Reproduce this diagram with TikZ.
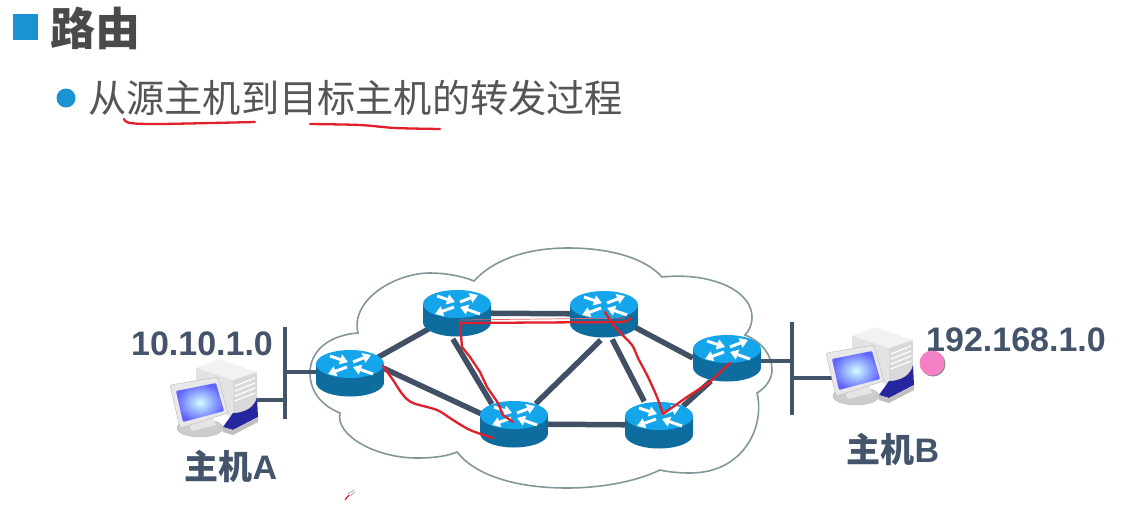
\documentclass[tikz,border=0pt]{standalone}
\usepackage{fontspec}
\setmainfont{Liberation Sans}
\newfontfamily\cjk{Noto Sans CJK SC}
\usetikzlibrary{arrows.meta,shapes.geometric}
\definecolor{slate}{HTML}{44546A}
\definecolor{titlegray}{HTML}{4A4A4A}
\definecolor{bodygray}{HTML}{555555}
\definecolor{bulletblue}{HTML}{1A93D4}
\definecolor{cloudgray}{HTML}{82979A}
\definecolor{routertop}{HTML}{14A5EA}
\definecolor{routerside}{HTML}{0E6C9E}
\definecolor{penred}{HTML}{E0202A}
\tikzset{
  routerbox/.style={ellipse, minimum width=68pt, minimum height=52pt, inner sep=0pt},
  netlink/.style={draw=slate!95!black, line width=5.5pt},
  barline/.style={draw=slate, line width=4.5pt},
  redline/.style={draw=penred, line width=2.3pt, line cap=round, line join=round},
  netlabel/.style={text=slate, font=\fontsize{34}{34}\selectfont\bfseries, inner sep=0pt},
  turn/.style={white, line width=3pt, -{Triangle[length=8pt,width=10pt]}},
  router/.pic={
    \fill[routerside] (-34,-9) rectangle (34,9.5);
    \fill[routerside] (0,9.5) ellipse [x radius=34, y radius=14];
    \fill[routertop] (0,-9) ellipse [x radius=34, y radius=14];
    \draw[turn] (-20,-17) -- (-2,-11);
    \draw[turn] (3,-11) -- (21,-18);
    \draw[turn] (-3,-6) -- (-22,1);
    \draw[turn] (23,1) -- (3,-6);
  },
  computer/.pic={
    \fill[black!20, draw=black!28] (-10,33) ellipse [x radius=23, y radius=9];
    \fill[black!10] (-22,26) -- (2,20) -- (6,30) -- (-18,36) -- cycle;
    \fill[black!5] (-14,-27) -- (8,-36) -- (47,-23) -- (23,-15) -- cycle;
    \fill[black!11] (-14,-27) -- (23,-15) -- (23,25) -- (-14,-8) -- cycle;
    \fill[black!15] (23,-15) -- (47,-23) -- (47,8) -- (23,25) -- cycle;
    \draw[white, line width=1.2pt] (25,-9) -- (45,-17) (25,-4) -- (45,-12) (25,1) -- (45,-7) (25,6) -- (45,-2);
    \fill[blue!55!black!85!white] (13,32) -- (23,35) -- (48,22) -- (47,2) .. controls (45,12) and (35,18) .. (23,18) -- cycle;
    \fill[black!25] (23,35) -- (48,22) -- (48,27) -- (23,40) -- (13,37) -- (13,32) -- cycle;
    \fill[black!9, draw=black!28, rounded corners=2pt] (-40,-10) -- (8,-18) -- (18,18) -- (-30,33) -- cycle;
    \shade[inner color=cyan!20, outer color=blue!62!white, rounded corners=1pt] (-34,-4) -- (6,-12) -- (14,16) -- (-27,27) -- cycle;
  }
}
\begin{document}
\begin{tikzpicture}[x=1pt, y=-1pt]
    \useasboundingbox (0,0) rectangle (1148,522);
    \fill[white] (0,0) rectangle (1148,522);

    \fill[bulletblue] (13,14) rectangle (38,40);
    \node[text=titlegray, font=\fontsize{45}{45}\selectfont\bfseries\cjk, inner sep=0pt] (title) at (95,28) {路由};
    \fill[bulletblue] (66,98) circle [radius=9.5];
    \node[text=bodygray, font=\fontsize{38.2}{38.2}\selectfont\cjk, inner sep=0pt, anchor=west] (subtitle) at (88,98) {从源主机到目标主机的转发过程};
    \draw[redline] plot[smooth] coordinates {(124,119) (130,123) (160,124) (255,122)};
    \draw[redline] plot[smooth] coordinates {(310,124) (360,125) (395,128) (440,129)};

    \draw[cloudgray, fill=white, line width=1.6pt]
      (474,281) .. controls (495,258) and (530,248) .. (568,248)
      .. controls (610,248) and (645,258) .. (662,277)
      .. controls (710,272) and (752,290) .. (752,317)
      .. controls (752,325) and (749,331) .. (745,335)
      .. controls (762,342) and (772,355) .. (772,370)
      .. controls (772,380) and (765,388) .. (757,393)
      .. controls (765,425) and (745,473) .. (690,473)
      .. controls (680,473) and (668,472) .. (660,470)
      .. controls (635,482) and (600,488) .. (567,488)
      .. controls (515,488) and (475,475) .. (457,452)
      .. controls (445,457) and (430,458) .. (417,458)
      .. controls (375,458) and (335,435) .. (340,413)
      .. controls (320,405) and (310,390) .. (310,373)
      .. controls (310,350) and (330,335) .. (358,333)
      .. controls (350,300) and (395,273) .. (430,273)
      .. controls (445,273) and (462,276) .. (474,281) -- cycle;

    \node[routerbox] (r1) at (350,373) {};
    \node[routerbox] (r2) at (457,313) {};
    \node[routerbox] (r3) at (604,314) {};
    \node[routerbox] (r4) at (727,358) {};
    \node[routerbox] (r5) at (659,425) {};
    \node[routerbox] (r6) at (514,424) {};

    \coordinate (barAtop) at (285,327);
    \coordinate (barAbot) at (285,419);
    \coordinate (barAnet) at (285,372);
    \coordinate (barAhost) at (285,400);
    \coordinate (barBtop) at (792,322);
    \coordinate (barBbot) at (792,415);
    \coordinate (barBnet) at (792,361);
    \coordinate (barBhost) at (792,378);
    \coordinate (hostA) at (210,395);
    \coordinate (hostB) at (866,363);

    \draw[netlink] (r1) -- (r2);
    \draw[netlink] (r1.8) -- (r6.163);
    \draw[netlink] (r2) -- (r3);
    \draw[netlink] (r2.261) -- (r6.138);
    \draw[netlink] (r3.263) -- (r6.43);
    \draw[netlink] (r3.288) -- (r5.122);
    \draw[netlink] (r3.337) -- (r4.180);
    \draw[netlink] (r4.235) -- (r5.38);
    \draw[netlink] (r6) -- (r5);

    \draw[barline] (barAtop) -- (barAbot);
    \draw[barline] (barBtop) -- (barBbot);
    \draw[barline] (barAnet) -- (barAnet -| r1);
    \draw[barline] (barAhost) -- (hostA |- barAhost);
    \draw[barline] (barBnet) -- (barBnet -| r4);
    \draw[barline] (barBhost) -- (hostB |- barBhost);

    \foreach \name in {r1,r2,r3,r4,r5,r6}
      \pic at (\name) {router};
    \pic at (hostA) {computer};
    \pic at (hostB) {computer};

    \draw[redline] plot[smooth, tension=0.5] coordinates {(383,366) (393,380) (403,395) (413,403) (437,410) (453,420) (470,430) (493,438)};
    \draw[redline] (631,318) .. controls (628,321) and (625,322) .. (620,322) -- (460,323) -- (462,347) -- (470,357) -- (480,372) -- (487,387) -- (498,403) -- (503,415) -- (513,422);
    \draw[penred!70, line width=0.7pt] (460,320) -- (625,318);
    \draw[redline] plot[smooth, tension=0.4] coordinates {(605,312) (615,327) (632,345) (638,358) (648,377) (657,397) (663,414)};
    \draw[redline] (663,414) -- (687,397) -- (710,382) -- (730,363);

    \node[netlabel] (labelA) at (202,344) {10.10.1.0};
    \node[netlabel] (labelB) at (1016,340) {192.168.1.0};
    \node[netlabel] (nameA) at (231,466) {{\cjk 主机}A};
    \node[netlabel] (nameB) at (893,449) {{\cjk 主机}B};

    \fill[black!45] (933,364) circle [radius=12.5];
    \fill[magenta!50!white] (932,363) circle [radius=12.5];

    \draw[penred, line width=1.2pt] (345,500) -- (349,495);
    \draw[black!35, line width=0.8pt] (348,494) -- (354,490) (350,496) -- (355,492);
\end{tikzpicture}
\end{document}
